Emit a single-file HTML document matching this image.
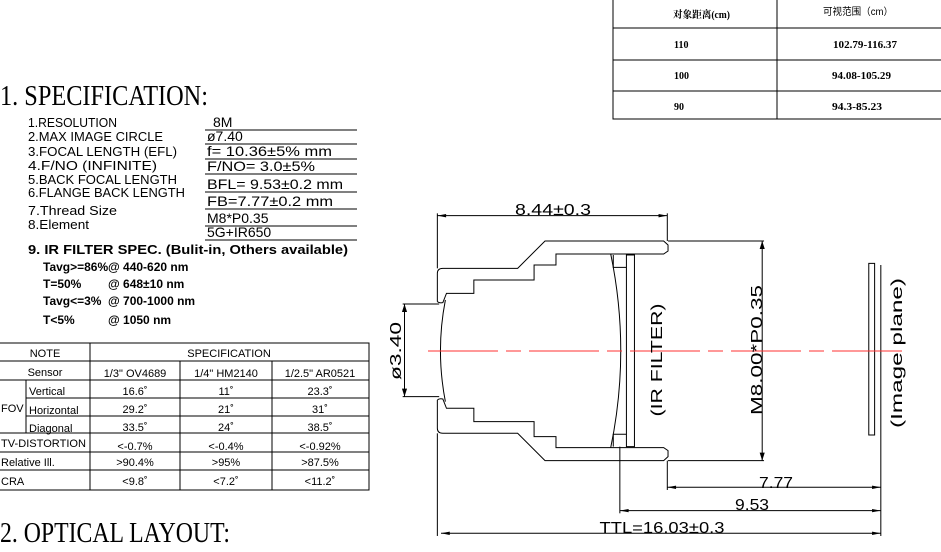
<!DOCTYPE html>
<html><head><meta charset="utf-8"><style>
html,body{margin:0;padding:0;background:#fff;width:941px;height:552px;overflow:hidden}
svg{display:block}
.s{font-family:"Liberation Sans","Noto Sans CJK SC",sans-serif}
.r{font-family:"Liberation Serif","Noto Serif CJK SC",serif}
.ln{vector-effect:non-scaling-stroke}
</style></head><body>
<svg width="941" height="552" viewBox="0 0 941 552" xmlns="http://www.w3.org/2000/svg">
<g stroke="#000" stroke-width="1" fill="none">
<rect x="613" y="-1" width="330" height="120"/>
<line x1="777" y1="0" x2="777" y2="119"/>
<line x1="613" y1="28" x2="941" y2="28"/>
<line x1="613" y1="60" x2="941" y2="60"/>
<line x1="613" y1="91" x2="941" y2="91"/>
</g>
<g font-size="10" font-weight="bold">
<text class="r" x="673" y="18" textLength="57" lengthAdjust="spacingAndGlyphs">对象距离(cm)</text>
<text class="s" x="823" y="15" font-weight="normal" textLength="70" lengthAdjust="spacingAndGlyphs">可视范围（cm）</text>
<text class="r" x="674" y="48">110</text>
<text class="r" x="833" y="48" textLength="64" lengthAdjust="spacingAndGlyphs">102.79-116.37</text>
<text class="r" x="674" y="79">100</text>
<text class="r" x="832" y="79" textLength="59" lengthAdjust="spacingAndGlyphs">94.08-105.29</text>
<text class="r" x="674" y="110">90</text>
<text class="r" x="832" y="110" textLength="50" lengthAdjust="spacingAndGlyphs">94.3-85.23</text>
</g>

<text class="r" x="0" y="105" font-size="28" textLength="208" lengthAdjust="spacingAndGlyphs">1. SPECIFICATION:</text>
<g font-size="13">
<text class="s" x="28" y="127" textLength="89" lengthAdjust="spacingAndGlyphs">1.RESOLUTION</text>
<text class="s" x="28" y="141" textLength="135" lengthAdjust="spacingAndGlyphs">2.MAX  IMAGE  CIRCLE</text>
<text class="s" x="28" y="156" textLength="149" lengthAdjust="spacingAndGlyphs">3.FOCAL  LENGTH  (EFL)</text>
<text class="s" x="28" y="170" textLength="129" lengthAdjust="spacingAndGlyphs">4.F/NO  (INFINITE)</text>
<text class="s" x="28" y="184" textLength="149" lengthAdjust="spacingAndGlyphs">5.BACK  FOCAL  LENGTH</text>
<text class="s" x="28" y="197" textLength="157" lengthAdjust="spacingAndGlyphs">6.FLANGE  BACK  LENGTH</text>
<text class="s" x="28" y="215" textLength="89" lengthAdjust="spacingAndGlyphs">7.Thread  Size</text>
<text class="s" x="28" y="229" textLength="61" lengthAdjust="spacingAndGlyphs">8.Element</text>
</g>
<g font-size="14">
<text class="s" x="213" y="127">8M</text>
<text class="s" x="207" y="141">ø7.40</text>
<text class="s" x="207" y="156" textLength="125" lengthAdjust="spacingAndGlyphs">f= 10.36±5% mm</text>
<text class="s" x="207" y="171" textLength="108" lengthAdjust="spacingAndGlyphs">F/NO= 3.0±5%</text>
<text class="s" x="207" y="189" textLength="136" lengthAdjust="spacingAndGlyphs">BFL= 9.53±0.2 mm</text>
<text class="s" x="207" y="206" textLength="126" lengthAdjust="spacingAndGlyphs">FB=7.77±0.2 mm</text>
<text class="s" x="207" y="223">M8*P0.35</text>
<text class="s" x="207" y="237">5G+IR650</text>
</g>
<g stroke="#000" stroke-width="1">
<line x1="205" y1="130" x2="357" y2="130"/>
<line x1="205" y1="144" x2="357" y2="144"/>
<line x1="205" y1="159" x2="357" y2="159"/>
<line x1="205" y1="174" x2="357" y2="174"/>
<line x1="205" y1="192" x2="357" y2="192"/>
<line x1="205" y1="209" x2="357" y2="209"/>
<line x1="205" y1="226" x2="357" y2="226"/>
<line x1="205" y1="240" x2="357" y2="240"/>
</g>
<g font-weight="bold" font-size="12">
<text class="s" x="28" y="254" font-size="13" textLength="320" lengthAdjust="spacingAndGlyphs">9. IR FILTER SPEC. (Bulit-in, Others available)</text>
<text class="s" x="43" y="271">Tavg&gt;=86%</text>
<text class="s" x="108" y="271">@ 440-620 nm</text>
<text class="s" x="43" y="288">T=50%</text>
<text class="s" x="108" y="288">@ 648±10 nm</text>
<text class="s" x="43" y="305">Tavg&lt;=3%</text>
<text class="s" x="108" y="305">@ 700-1000 nm</text>
<text class="s" x="43" y="324">T&lt;5%</text>
<text class="s" x="108" y="324">@ 1050 nm</text>
</g>

<g stroke="#000" stroke-width="1" fill="none">
<rect x="-1" y="343" width="370" height="147"/>
<line x1="0" y1="361" x2="369" y2="361"/>
<line x1="0" y1="380" x2="369" y2="380"/>
<line x1="26" y1="398" x2="369" y2="398"/>
<line x1="26" y1="416" x2="369" y2="416"/>
<line x1="0" y1="433" x2="369" y2="433"/>
<line x1="0" y1="452" x2="369" y2="452"/>
<line x1="0" y1="470" x2="369" y2="470"/>
<line x1="90" y1="343" x2="90" y2="490"/>
<line x1="180" y1="361" x2="180" y2="490"/>
<line x1="272" y1="361" x2="272" y2="490"/>
<line x1="26" y1="380" x2="26" y2="433"/>
</g>
<g font-size="11">
<text class="s" x="45" y="357" text-anchor="middle">NOTE</text>
<text class="s" x="229" y="357" text-anchor="middle">SPECIFICATION</text>
<text class="s" x="45" y="376" text-anchor="middle">Sensor</text>
<text class="s" x="135" y="377" text-anchor="middle">1/3"  OV4689</text>
<text class="s" x="226" y="377" text-anchor="middle">1/4"  HM2140</text>
<text class="s" x="320" y="377" text-anchor="middle">1/2.5"  AR0521</text>
<text class="s" x="1" y="412">FOV</text>
<text class="s" x="29" y="395">Vertical</text>
<text class="s" x="29" y="414">Horizontal</text>
<text class="s" x="29" y="432">Diagonal</text>
<text class="s" x="135" y="395" text-anchor="middle">16.6˚</text>
<text class="s" x="226" y="395" text-anchor="middle">11˚</text>
<text class="s" x="320" y="395" text-anchor="middle">23.3˚</text>
<text class="s" x="135" y="413" text-anchor="middle">29.2˚</text>
<text class="s" x="226" y="413" text-anchor="middle">21˚</text>
<text class="s" x="320" y="413" text-anchor="middle">31˚</text>
<text class="s" x="135" y="431" text-anchor="middle">33.5˚</text>
<text class="s" x="226" y="431" text-anchor="middle">24˚</text>
<text class="s" x="320" y="431" text-anchor="middle">38.5˚</text>
<text class="s" x="1" y="447" textLength="85" lengthAdjust="spacingAndGlyphs">TV-DISTORTION</text>
<text class="s" x="135" y="450" text-anchor="middle">&lt;-0.7%</text>
<text class="s" x="226" y="450" text-anchor="middle">&lt;-0.4%</text>
<text class="s" x="320" y="450" text-anchor="middle">&lt;-0.92%</text>
<text class="s" x="1" y="466">Relative Ill.</text>
<text class="s" x="135" y="466" text-anchor="middle">&gt;90.4%</text>
<text class="s" x="226" y="466" text-anchor="middle">&gt;95%</text>
<text class="s" x="320" y="466" text-anchor="middle">&gt;87.5%</text>
<text class="s" x="1" y="485">CRA</text>
<text class="s" x="135" y="485" text-anchor="middle">&lt;9.8˚</text>
<text class="s" x="226" y="485" text-anchor="middle">&lt;7.2˚</text>
<text class="s" x="320" y="485" text-anchor="middle">&lt;11.2˚</text>
</g>
<text class="r" x="0" y="542" font-size="28" textLength="230" lengthAdjust="spacingAndGlyphs">2. OPTICAL LAYOUT:</text>

<g transform="translate(368,180) scale(0.365,0.3333)" fill="none" stroke="#000" stroke-width="1">
<path class="ln" d="M190,365 L190,280 Q190,265 205,265 L410,265 L485,183 L810,183 L822,195 L822,213 L810,222 L515,222 L515,255 L455,255 L455,300 L290,300 L290,340 L215,340 L205,368 Q195,370 190,365"/>
<path class="ln" d="M190,660 L190,745 Q190,760 205,760 L410,760 L485,842 L810,842 L822,830 L822,812 L810,803 L515,803 L515,770 L455,770 L455,725 L290,725 L290,685 L215,685 L205,657 Q195,655 190,660"/>
<path class="ln" d="M212,360 Q185,512 212,665"/>
<path class="ln" d="M665,222 Q720,512 665,803"/>
<path class="ln" d="M672,225 L672,262 L708,262"/>
<path class="ln" d="M672,800 L672,763 L708,763"/>
<rect class="ln" x="708" y="225" width="22" height="575"/>
<rect class="ln" x="1372" y="250" width="16" height="515"/>
<line class="ln" x1="1405" y1="255" x2="1405" y2="1068"/>
<line class="ln" x1="190" y1="100" x2="190" y2="265"/>
<line class="ln" x1="820" y1="100" x2="820" y2="183"/>
<line class="ln" x1="190" y1="107" x2="820" y2="107"/>
<line class="ln" x1="822" y1="183" x2="1085" y2="183"/>
<line class="ln" x1="822" y1="842" x2="1085" y2="842"/>
<line class="ln" x1="1080" y1="183" x2="1080" y2="842"/>
<line class="ln" x1="95" y1="372" x2="195" y2="372"/>
<line class="ln" x1="95" y1="650" x2="195" y2="650"/>
<line class="ln" x1="100" y1="372" x2="100" y2="650"/>
<line class="ln" x1="820" y1="842" x2="820" y2="930"/>
<line class="ln" x1="690" y1="800" x2="690" y2="1000"/>
<line class="ln" x1="190" y1="760" x2="190" y2="1068"/>
<line class="ln" x1="820" y1="922" x2="1405" y2="922"/>
<line class="ln" x1="690" y1="992" x2="1405" y2="992"/>
<line class="ln" x1="200" y1="1060" x2="1405" y2="1060"/>
</g>
<g transform="translate(368,180) scale(0.365,0.3333)" fill="#000">
<path d="M190,107 l24,-5 v10z M820,107 l-24,-5 v10z"/>
<path d="M1080,183 l-7,24 h14z M1080,842 l-7,-24 h14z"/>
<path d="M100,372 l-7,24 h14z M100,650 l-7,-24 h14z"/>
<path d="M820,922 l24,-5 v10z M1405,922 l-24,-5 v10z"/>
<path d="M690,992 l24,-5 v10z M1405,992 l-24,-5 v10z"/>
<path d="M200,1060 l24,-5 v10z M1405,1060 l-24,-5 v10z"/>
</g>
<line x1="428" y1="351" x2="905" y2="351" stroke="#ff3030" stroke-width="1" stroke-dasharray="70 8 15 8"/>
<g font-size="16">
<text class="s" x="553" y="215" text-anchor="middle" textLength="76" lengthAdjust="spacingAndGlyphs">8.44±0.3</text>
<text class="s" x="776" y="488" text-anchor="middle" textLength="34" lengthAdjust="spacingAndGlyphs">7.77</text>
<text class="s" x="752" y="510" text-anchor="middle" textLength="34" lengthAdjust="spacingAndGlyphs">9.53</text>
<text class="s" x="662" y="533" text-anchor="middle" textLength="125" lengthAdjust="spacingAndGlyphs">TTL=16.03±0.3</text>
<text class="s" transform="translate(401,351) rotate(-90)" text-anchor="middle" textLength="58" lengthAdjust="spacingAndGlyphs">ø3.40</text>
<text class="s" transform="translate(662,360) rotate(-90)" text-anchor="middle" textLength="113" lengthAdjust="spacingAndGlyphs">(IR  FILTER)</text>
<text class="s" transform="translate(762,350) rotate(-90)" text-anchor="middle" textLength="130" lengthAdjust="spacingAndGlyphs">M8.00*P0.35</text>
<text class="s" transform="translate(902,353) rotate(-90)" text-anchor="middle" textLength="150" lengthAdjust="spacingAndGlyphs">(Image  plane)</text>
</g>
</svg>
</body></html>
